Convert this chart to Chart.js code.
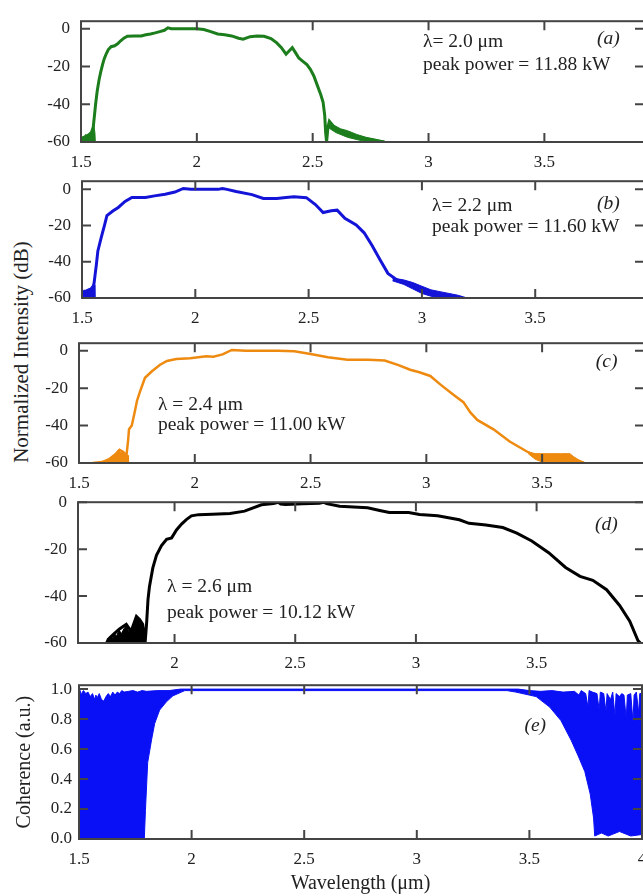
<!DOCTYPE html>
<html>
<head>
<meta charset="utf-8">
<script src="https://cdn.jsdelivr.net/npm/chart.js@4.4.0/dist/chart.umd.min.js"></script>
<style>
  body { margin: 0; background: #fff; width: 643px; height: 896px; overflow: hidden; position: relative; }
  canvas { position: absolute; left: 0; }
  #ylab {
    position: absolute; left: 21px; top: 352px;
    transform: translate(-50%, -50%) rotate(-90deg);
    font: 21px "Liberation Serif", "Times New Roman", serif; color: #222; white-space: nowrap;
  }
</style>
</head>
<body>
<div id="ylab">Normalized Intensity (dB)</div>
<script>
// ticks
const wlTicks = [1.5, 2, 2.5, 3, 3.5, 4];
const dbTicks = [0, -20, -40, -60];
const cohTicks = [0, 0.2, 0.4, 0.6, 0.8, 1.0];

// (a) lambda = 2.0 um
const aLine = [[1.500,-58],[1.515,-57.5],[1.530,-56.5],[1.545,-55],[1.553,-52],[1.558,-46],[1.563,-40],[1.570,-33],[1.578,-27],[1.585,-23],[1.593,-19],[1.600,-16],[1.610,-13],[1.618,-11],[1.630,-9.5],[1.645,-9],[1.658,-8],[1.670,-6.5],[1.685,-5],[1.700,-4],[1.730,-3.8],[1.760,-3.8],[1.780,-3.2],[1.800,-2.8],[1.820,-2.2],[1.840,-1.5],[1.860,-0.8],[1.875,0.5],[1.890,0],[1.950,0],[2.000,0],[2.030,-0.4],[2.060,-1.5],[2.090,-2.8],[2.120,-3.2],[2.150,-3.8],[2.180,-5],[2.200,-5.5],[2.230,-4.2],[2.260,-3.8],[2.290,-4],[2.320,-5.2],[2.345,-7.5],[2.365,-10],[2.385,-13.5],[2.400,-11.5],[2.412,-10],[2.425,-12.5],[2.440,-15.5],[2.455,-17],[2.475,-19],[2.490,-21.5],[2.505,-25],[2.520,-30],[2.535,-35],[2.545,-39],[2.552,-46],[2.556,-55],[2.560,-60],[2.566,-52],[2.572,-49],[2.585,-51],[2.600,-53],[2.630,-54.5],[2.660,-56],[2.700,-57.5],[2.740,-58.5],[2.780,-59.5],[2.810,-60]];
const aNoise = [[1.500,-57],[1.510,-58],[1.520,-56],[1.530,-57],[1.540,-55],[1.550,-54],[1.555,-51],[1.560,-55],[1.562,-60]];
const aTailUp = [[2.566,-50],[2.575,-49],[2.590,-51],[2.620,-53],[2.650,-54],[2.690,-56],[2.730,-57.5],[2.770,-58.5],[2.800,-59.3],[2.820,-60]];
const aTailLo = [[2.566,-52],[2.575,-53],[2.600,-55],[2.650,-57.5],[2.700,-59],[2.740,-60],[2.820,-60]];

// (b) lambda = 2.2 um
const bLine = [[1.500,-58],[1.520,-56],[1.540,-55],[1.552,-53],[1.556,-49],[1.563,-42],[1.570,-34],[1.585,-26.5],[1.600,-19.5],[1.610,-14.5],[1.636,-12],[1.660,-10],[1.690,-6.7],[1.720,-4.5],[1.780,-4.5],[1.820,-3.6],[1.867,-2.7],[1.910,-1.5],[1.947,0.5],[1.980,0],[2.050,0],[2.100,0],[2.120,0.5],[2.140,0],[2.180,-1.2],[2.250,-2.9],[2.300,-5],[2.360,-5],[2.400,-4.5],[2.435,-4.1],[2.490,-4.6],[2.530,-8.4],[2.564,-12.8],[2.600,-11.8],[2.626,-11.5],[2.660,-16],[2.710,-19.7],[2.745,-24],[2.780,-31],[2.817,-39.3],[2.850,-46.4],[2.890,-50],[2.945,-51.8],[3.000,-55.5],[3.070,-58],[3.145,-59.5],[3.180,-60]];
const bNoise = [[1.500,-57],[1.510,-55.5],[1.520,-57],[1.530,-55],[1.540,-55.5],[1.550,-52],[1.555,-53],[1.557,-60]];
const bTailUp = [[2.870,-49],[2.920,-50],[2.960,-51.5],[3.000,-53.5],[3.040,-55.5],[3.080,-56.5],[3.120,-57.5],[3.160,-58.5],[3.200,-60]];
const bTailLo = [[2.870,-50.5],[2.920,-52.5],[2.960,-55],[3.000,-57.5],[3.040,-59],[3.080,-60],[3.200,-60]];

// (c) lambda = 2.4 um
const cLine = [[1.560,-60],[1.600,-59.5],[1.630,-58],[1.660,-55],[1.675,-53],[1.690,-54],[1.705,-56],[1.712,-48],[1.716,-42],[1.728,-40],[1.742,-32],[1.750,-27],[1.763,-22],[1.785,-14.5],[1.815,-11],[1.850,-7.5],[1.880,-5.5],[1.920,-4.5],[1.980,-4],[2.050,-3],[2.080,-3.2],[2.120,-2],[2.160,0.4],[2.220,0],[2.300,0],[2.360,0],[2.430,-0.3],[2.500,-1.8],[2.575,-3.5],[2.660,-4.8],[2.750,-4.8],[2.820,-5.3],[2.880,-7.7],[2.930,-10.2],[2.970,-11.5],[3.017,-13.5],[3.060,-18],[3.117,-23.5],[3.160,-27.5],[3.190,-33],[3.220,-37],[3.290,-42],[3.360,-48.5],[3.436,-54],[3.460,-55.5],[3.550,-56.5],[3.630,-57.5],[3.680,-60]];
const cNoise = [[1.560,-60],[1.590,-59.5],[1.620,-58.5],[1.640,-57],[1.660,-55.5],[1.670,-53],[1.680,-54.5],[1.690,-53.5],[1.700,-55],[1.712,-56],[1.714,-60]];
const cTailUp = [[3.440,-54],[3.470,-55],[3.520,-55],[3.580,-55],[3.620,-55],[3.635,-56.5],[3.660,-58.5],[3.690,-60]];
const cTailLo = [[3.440,-55],[3.470,-58],[3.500,-59.5],[3.520,-60],[3.690,-60]];

// (d) lambda = 2.6 um
const dLine = [[1.718,-60],[1.730,-58],[1.750,-56],[1.772,-54],[1.800,-52],[1.820,-55],[1.842,-48.7],[1.855,-50],[1.868,-52],[1.878,-60],[1.884,-52],[1.890,-41.5],[1.896,-36],[1.910,-28],[1.925,-22.6],[1.946,-18.5],[1.967,-15.8],[1.988,-15.2],[2.008,-11.8],[2.030,-9.2],[2.050,-7.3],[2.070,-5.8],[2.100,-5.3],[2.157,-5.1],[2.230,-4.8],[2.290,-3.8],[2.360,-1.1],[2.410,-0.6],[2.430,0],[2.440,-0.8],[2.460,-1],[2.530,-0.7],[2.600,-0.5],[2.617,0],[2.630,-0.6],[2.684,-1.7],[2.800,-2.4],[2.850,-3.5],[2.890,-4.4],[2.970,-4.4],[3.015,-5.2],[3.090,-5.8],[3.180,-7.5],[3.220,-9],[3.290,-9.7],[3.360,-10.8],[3.418,-13.2],[3.480,-16.5],[3.550,-21.5],[3.620,-27.8],[3.680,-31.6],[3.733,-33.3],[3.790,-37.3],[3.844,-44],[3.886,-50.7],[3.920,-59],[3.930,-60]];
const dNoise = [[1.718,-60],[1.722,-58],[1.730,-59],[1.735,-57],[1.745,-58],[1.750,-56],[1.760,-57],[1.770,-54.5],[1.780,-56],[1.790,-54],[1.800,-52.5],[1.810,-55],[1.820,-54.5],[1.830,-52],[1.842,-48.7],[1.855,-50],[1.868,-52.5],[1.875,-56],[1.878,-60]];

// (e) coherence, upper and lower edges of the dense trace
const eUpper = [[1.500,0.97],[1.505,0.99],[1.510,0.96],[1.515,0.98],[1.520,0.99],[1.530,0.97],[1.540,0.98],[1.550,0.95],[1.560,0.97],[1.570,0.93],[1.575,0.96],[1.580,0.94],[1.590,0.97],[1.600,0.93],[1.610,0.92],[1.620,0.95],[1.630,0.97],[1.640,0.95],[1.650,0.98],[1.660,0.96],[1.670,0.98],[1.680,0.97],[1.690,0.99],[1.700,0.98],[1.720,0.985],[1.740,0.99],[1.760,0.98],[1.780,0.99],[1.800,0.985],[1.850,0.99],[1.900,0.99],[1.950,1.0],[3.450,1.0],[3.500,0.99],[3.550,0.985],[3.600,0.99],[3.650,0.98],[3.700,0.985],[3.720,0.96],[3.730,0.99],[3.750,0.97],[3.760,0.88],[3.765,0.99],[3.780,0.98],[3.800,0.97],[3.810,0.86],[3.815,0.98],[3.830,0.97],[3.840,0.85],[3.845,0.97],[3.860,0.93],[3.870,0.98],[3.880,0.82],[3.885,0.97],[3.900,0.95],[3.910,0.97],[3.920,0.96],[3.930,0.8],[3.935,0.96],[3.950,0.97],[3.960,0.78],[3.965,0.96],[3.975,0.98],[3.985,0.84],[3.990,0.97],[4.000,0.97]];
const eLower = [[1.500,0.0],[1.790,0.0],[1.795,0.19],[1.805,0.51],[1.822,0.66],[1.836,0.77],[1.858,0.86],[1.888,0.915],[1.917,0.955],[1.955,0.98],[1.970,0.99],[3.400,0.99],[3.440,0.98],[3.530,0.95],[3.590,0.88],[3.640,0.79],[3.685,0.66],[3.715,0.56],[3.746,0.45],[3.770,0.3],[3.785,0.14],[3.790,0.02],[3.820,0.04],[3.850,0.02],[3.900,0.05],[3.950,0.02],[4.000,0.03]];

const FONT = '"Liberation Serif", "Times New Roman", serif';
Chart.defaults.font.family = FONT;
Chart.defaults.color = '#222';

const pts = arr => arr.map(p => ({ x: p[0], y: p[1] }));

function line(arr, color, w) {
  return { data: pts(arr), showLine: true, borderColor: color, borderWidth: w, fill: false };
}
function fillStart(arr, color) {
  return { data: pts(arr), showLine: true, borderColor: color, borderWidth: 1, backgroundColor: color, fill: 'start' };
}
function band(up, lo, color) {
  return [
    { data: pts(up), showLine: true, borderColor: color, borderWidth: 1, backgroundColor: color, fill: '+1' },
    { data: pts(lo), showLine: true, borderColor: color, borderWidth: 1, fill: false }
  ];
}

// frame with inward ticks on all four sides
const frameTicks = {
  id: 'frameTicks',
  afterDraw(chart) {
    const { ctx, chartArea: a, scales: { x, y } } = chart;
    ctx.save();
    ctx.strokeStyle = '#444';
    ctx.lineWidth = 2;
    ctx.strokeRect(a.left, a.top, a.right - a.left, a.bottom - a.top);
    ctx.beginPath();
    x.ticks.forEach(t => {
      const px = x.getPixelForValue(t.value);
      ctx.moveTo(px, a.bottom); ctx.lineTo(px, a.bottom - 9);
      ctx.moveTo(px, a.top); ctx.lineTo(px, a.top + 9);
    });
    y.ticks.forEach(t => {
      const py = y.getPixelForValue(t.value);
      ctx.moveTo(a.left, py); ctx.lineTo(a.left + 9, py);
      ctx.moveTo(a.right, py); ctx.lineTo(a.right - 9, py);
    });
    ctx.stroke();
    ctx.restore();
  }
};

// text notes placed in data coordinates
const notesPlugin = {
  id: 'notes',
  afterDraw(chart, args, opts) {
    const { ctx, scales: { x, y } } = chart;
    ctx.save();
    ctx.fillStyle = '#222';
    ctx.textBaseline = 'middle';
    ctx.textAlign = 'left';
    (opts.items || []).forEach(n => {
      ctx.font = (n.italic ? 'italic ' : '') + '19.5px ' + FONT;
      ctx.fillText(n.text, x.getPixelForValue(n.x), y.getPixelForValue(n.y));
    });
    ctx.restore();
  }
};

const CW = 660, RIGHT = 644;

function makePanel(cfg) {
  const cv = document.createElement('canvas');
  cv.width = CW;
  cv.height = cfg.h;
  cv.style.top = cfg.top + 'px';
  document.body.appendChild(cv);
  return new Chart(cv, {
    type: 'scatter',
    data: { datasets: cfg.datasets },
    options: {
      responsive: false,
      animation: false,
      layout: { padding: { top: 13, right: CW - (cfg.right || RIGHT), left: 0, bottom: 0 } },
      elements: { point: { radius: 0 }, line: { tension: 0 } },
      plugins: { legend: { display: false }, tooltip: { enabled: false }, notes: { items: cfg.notes } },
      scales: {
        x: {
          type: 'linear', min: cfg.xMin, max: cfg.xMax,
          grid: { display: false, drawTicks: false }, border: { display: false },
          afterBuildTicks: s => { s.ticks = wlTicks.filter(v => v >= cfg.xMin && v <= cfg.xMax + 1e-9).map(v => ({ value: v })); },
          afterFit: s => { s.height = cfg.xH; },
          ticks: { padding: 10, font: { size: 17 }, color: '#222', maxRotation: 0, autoSkip: false, callback: v => String(v) },
          title: cfg.xTitle ? { display: true, text: cfg.xTitle, font: { size: 20 }, color: '#222', padding: 0 } : { display: false }
        },
        y: {
          type: 'linear', min: cfg.yMin, max: cfg.yMax,
          grid: { display: false, drawTicks: false }, border: { display: false },
          afterBuildTicks: s => { s.ticks = cfg.yTicks.map(v => ({ value: v })); },
          afterFit: s => { s.width = cfg.left; },
          ticks: { padding: cfg.yPad, font: { size: 17 }, color: '#222', callback: cfg.yFmt || (v => String(v)) },
          title: cfg.yTitle ? { display: true, text: cfg.yTitle, font: { size: 20 }, color: '#222', padding: { top: 13, bottom: 0 } } : { display: false }
        }
      }
    },
    plugins: [frameTicks, notesPlugin]
  });
}

const green = '#1b7d1b', blue = '#1414d8', orange = '#ee8a10', black = '#000000', eBlue = '#0a10f5';

makePanel({
  top: 0, h: 170, xH: 28, left: 81, yPad: 11,
  xMin: 1.5, xMax: 3.93, yMin: -60, yMax: 4, yTicks: dbTicks,
  datasets: [line(aLine, green, 3), ...band(aTailUp, aTailLo, green), fillStart(aNoise, green)],
  notes: [
    { text: 'λ= 2.0 μm', x: 2.976, y: -6.9 },
    { text: 'peak power = 11.88 kW', x: 2.976, y: -19.3 },
    { text: '(a)', x: 3.727, y: -5.4, italic: true }
  ]
});

makePanel({
  top: 160, h: 166, xH: 28, left: 82, yPad: 11,
  xMin: 1.5, xMax: 3.98, yMin: -60, yMax: 4.5, yTicks: dbTicks,
  datasets: [line(bLine, blue, 3), ...band(bTailUp, bTailLo, blue), fillStart(bNoise, blue)],
  notes: [
    { text: 'λ= 2.2 μm', x: 3.045, y: -9.4 },
    { text: 'peak power = 11.60 kW', x: 3.045, y: -20.8 },
    { text: '(b)', x: 3.773, y: -7.9, italic: true }
  ]
});

makePanel({
  top: 322, h: 169, xH: 28, left: 79, yPad: 11,
  xMin: 1.5, xMax: 3.94, yMin: -60, yMax: 4, yTicks: dbTicks,
  datasets: [line(cLine, orange, 2.5), ...band(cTailUp, cTailLo, orange), fillStart(cNoise, orange)],
  notes: [
    { text: 'λ = 2.4 μm', x: 1.841, y: -29 },
    { text: 'peak power = 11.00 kW', x: 1.841, y: -39.5 },
    { text: '(c)', x: 3.732, y: -6, italic: true }
  ]
});

makePanel({
  top: 481, h: 190, xH: 28, left: 78, yPad: 11,
  xMin: 1.6, xMax: 3.945, yMin: -60, yMax: 0, yTicks: dbTicks,
  datasets: [line(dLine, black, 3), fillStart(dNoise, black)],
  notes: [
    { text: 'λ = 2.6 μm', x: 1.969, y: -36.2 },
    { text: 'peak power = 10.12 kW', x: 1.969, y: -47.1 },
    { text: '(d)', x: 3.742, y: -9.7, italic: true }
  ]
});

makePanel({
  top: 668, h: 228, xH: 57, left: 79, right: 642, yPad: 7,
  xMin: 1.5, xMax: 4, yMin: 0, yMax: 1.026, yTicks: cohTicks,
  yFmt: v => v.toFixed(1),
  xTitle: 'Wavelength (μm)', yTitle: 'Coherence (a.u.)',
  datasets: band(eUpper, eLower, eBlue),
  notes: [{ text: '(e)', x: 3.478, y: 0.753, italic: true }]
});
</script>
</body>
</html>
